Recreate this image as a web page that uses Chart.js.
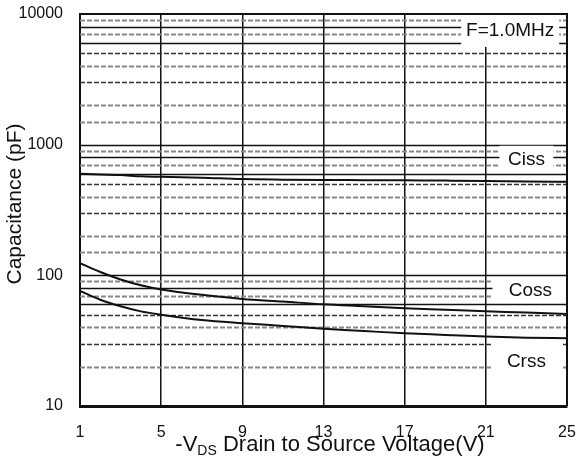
<!DOCTYPE html>
<html>
<head>
<meta charset="utf-8">
<script src="https://cdn.jsdelivr.net/npm/chart.js@4.4.1/dist/chart.umd.min.js"></script>
<style>
  html, body { margin: 0; padding: 0; background: #fff; }
  #wrap { width: 579px; height: 459px; position: relative; }
</style>
</head>
<body>
<div id="wrap"><canvas id="chart"></canvas></div>
<script>
// values
const voltage = [1, 2, 3, 4, 5, 7, 9, 11, 13, 15, 17, 19, 21, 23, 25]
const ciss = [600, 592, 585, 572, 568, 558, 545, 540, 537, 535, 533, 531, 528, 522, 520]
const coss = [124, 106, 93, 84, 78, 71, 66, 63, 60, 58, 56, 54.5, 53, 52, 50.5]
const crss = [76, 65, 58, 53, 50, 45.5, 43, 41, 39, 37.5, 36, 35, 34, 33.3, 33]

const xTicks = [1, 5, 9, 13, 17, 21, 25]
const yTicks = [10, 100, 1000, 10000]

// in-plot notes, anchored in data units
const noteText = ['F=1.0MHz', 'Ciss', 'Coss', 'Crss']
const noteX = [22.2, 23.0, 23.2, 23.0]
const noteY = [7560, 780, 77, 22]

const FONT = "'Liberation Sans', Arial, sans-serif"
const noteBox = [
  { w: 98, h: 34 },
  { w: 54, h: 26 },
  { w: 76, h: 25 },
  { w: 70, h: 46 }
]

const logGrid = {
  id: 'logGrid',
  beforeDatasetsDraw(chart) {
    const { ctx, chartArea: a, scales: { x, y } } = chart
    ctx.save()
    y.ticks.forEach(t => {
      const v = t.value
      if (v <= 10 || v >= 10000) return
      const m = Math.round(v / Math.pow(10, Math.floor(Math.log10(v) + 1e-9)))
      const py = Math.round(y.getPixelForValue(v)) + 0.5
      if (m === 1 || m === 8 || m === 6) {
        ctx.strokeStyle = '#111'
        ctx.lineWidth = 1.5
        ctx.setLineDash([])
      } else if (m === 5 || m === 3) {
        ctx.strokeStyle = '#333'
        ctx.lineWidth = 1.5
        ctx.setLineDash([5, 2])
      } else {
        ctx.strokeStyle = '#888'
        ctx.lineWidth = 2
        ctx.setLineDash([5, 2])
      }
      ctx.beginPath()
      ctx.moveTo(a.left, py)
      ctx.lineTo(a.right, py)
      ctx.stroke()
    })
    ctx.setLineDash([])

    // white boxes + note text
    noteText.forEach((txt, i) => {
      const cx = x.getPixelForValue(noteX[i])
      const cy = y.getPixelForValue(noteY[i])
      const b = noteBox[i]
      ctx.fillStyle = '#fff'
      ctx.fillRect(cx - b.w / 2, cy - b.h / 2, b.w, b.h)
      ctx.fillStyle = '#111'
      ctx.font = '19px ' + FONT
      ctx.textAlign = 'center'
      ctx.textBaseline = 'middle'
      ctx.fillText(txt, cx, cy + 1)
    })
    ctx.restore()
  },
  afterDatasetsDraw(chart) {
    const { ctx, chartArea: a } = chart
    ctx.save()
    ctx.strokeStyle = '#111'
    ctx.lineWidth = 2
    ctx.beginPath()
    ctx.moveTo(a.left, a.top)
    ctx.lineTo(a.right, a.top)
    ctx.lineTo(a.right, a.bottom)
    ctx.stroke()
    ctx.restore()
  },
  afterDraw(chart) {
    const { ctx } = chart
    ctx.save()
    ctx.fillStyle = '#111'
    // y title
    ctx.translate(15, 204)
    ctx.rotate(-Math.PI / 2)
    ctx.font = '21px ' + FONT
    ctx.textAlign = 'center'
    ctx.textBaseline = 'middle'
    ctx.fillText('Capacitance (pF)', 0, 0)
    ctx.restore()

    // x title with subscript
    ctx.save()
    ctx.fillStyle = '#111'
    ctx.textBaseline = 'alphabetic'
    ctx.textAlign = 'left'
    const big = '22px ' + FONT
    const small = '14px ' + FONT
    const parts = [['-V', big, 0], ['DS', small, 4], [' Drain to Source Voltage(V)', big, 0]]
    let total = 0
    parts.forEach(p => { ctx.font = p[1]; total += ctx.measureText(p[0]).width })
    let px = 330 - total / 2
    parts.forEach(p => {
      ctx.font = p[1]
      ctx.fillText(p[0], px, 451 + p[2])
      px += ctx.measureText(p[0]).width
    })
    ctx.restore()
  }
}

const curve = (label, data) => ({
  label,
  data: voltage.map((v, i) => ({ x: v, y: data[i] })),
  borderColor: '#111',
  borderWidth: 2,
  pointRadius: 0,
  fill: false,
  cubicInterpolationMode: 'monotone'
})

new Chart(document.getElementById('chart'), {
  type: 'line',
  data: {
    datasets: [curve('Ciss', ciss), curve('Coss', coss), curve('Crss', crss)]
  },
  options: {
    responsive: true,
    maintainAspectRatio: false,
    animation: false,
    layout: { padding: { top: 14, right: 12, left: 0, bottom: 0 } },
    plugins: {
      legend: { display: false },
      tooltip: { enabled: false }
    },
    scales: {
      x: {
        type: 'linear',
        min: 1,
        max: 25,
        afterBuildTicks: scale => { scale.ticks = xTicks.map(v => ({ value: v })) },
        afterFit: scale => {
          scale.height = 53
          scale.paddingLeft = 0
          scale.paddingRight = 0
        },
        grid: { color: '#111', lineWidth: 1.5, drawTicks: false },
        border: { color: '#111', width: 3 },
        ticks: {
          color: '#111',
          padding: 17,
          maxRotation: 0,
          autoSkip: false,
          font: { family: FONT, size: 16 }
        }
      },
      y: {
        type: 'logarithmic',
        min: 10,
        max: 10000,
        afterFit: scale => {
          scale.width = 80
          scale.paddingTop = 0
          scale.paddingBottom = 0
        },
        grid: { display: false, drawTicks: false },
        border: { color: '#111', width: 2 },
        ticks: {
          color: '#111',
          padding: 17,
          autoSkip: false,
          font: { family: FONT, size: 16 },
          callback: value => yTicks.includes(value) ? String(value) : ''
        }
      }
    }
  },
  plugins: [logGrid]
})
</script>
</body>
</html>
